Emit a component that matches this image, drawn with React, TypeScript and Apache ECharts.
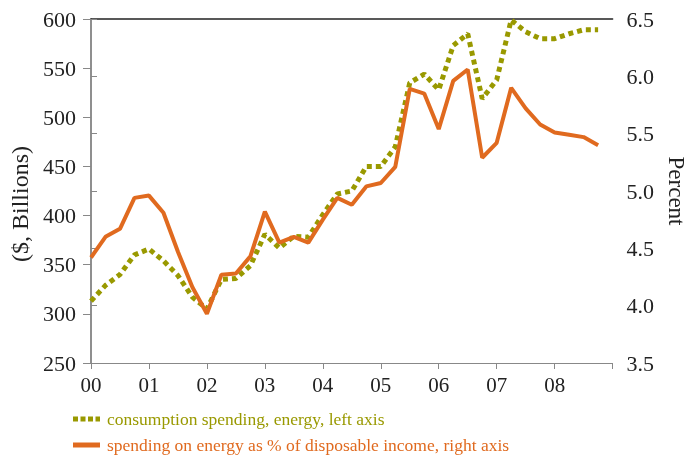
import React, { useEffect, useRef } from "react";
import * as echarts from "echarts";

// Quarterly, 2000Q1 .. 2008Q4 (index 0..35)
const yearLabels = ["00", "01", "02", "03", "04", "05", "06", "07", "08"];

const energySpending = [
  313, 329, 340, 360, 366, 354, 339, 317, 305, 335, 336, 349,
  381, 367, 379, 378, 401, 422, 425, 450, 450, 470, 535, 544,
  528, 573, 585, 519, 538, 599, 587, 580, 580, 585, 589, 589,
];

const energyShare = [
  4.42, 4.60, 4.67, 4.94, 4.96, 4.81, 4.47, 4.16, 3.93, 4.27, 4.28, 4.43,
  4.82, 4.55, 4.60, 4.55, 4.75, 4.94, 4.88, 5.04, 5.07, 5.21, 5.89, 5.85,
  5.54, 5.96, 6.06, 5.29, 5.42, 5.90, 5.72, 5.58, 5.51, 5.49, 5.47, 5.40,
];

const GREEN = "#999900";
const ORANGE = "#e06a1f";
const FONT = "'Liberation Serif', 'Times New Roman', serif";
const S1 = "consumption spending, energy, left axis";
const S2 = "spending on energy as % of disposable income, right axis";

export default function App() {
  const ref = useRef<HTMLDivElement>(null);
  useEffect(() => {
    if (!ref.current) return;
    const chart = echarts.init(ref.current, undefined, { renderer: "svg" });
    const axisColor = "#888888";
    const legendX = 73;
    const legendY = 419;
    const legendStep = 26;
    chart.setOption({
      animation: false,
      textStyle: { fontFamily: FONT },
      grid: { left: 91, right: 81, top: 19, bottom: 95 },
      graphic: [
        {
          type: "group",
          x: legendX,
          y: legendY,
          children: [
            {
              type: "line",
              shape: { x1: 0, y1: 0, x2: 27, y2: 0 },
              style: { stroke: GREEN, lineWidth: 5, lineDash: [5, 2.5] },
            },
            {
              type: "text",
              x: 34,
              y: 0,
              style: {
                text: S1,
                fill: GREEN,
                font: `17.5px ${FONT}`,
                verticalAlign: "middle",
              },
            },
            {
              type: "line",
              shape: { x1: 0, y1: legendStep, x2: 27, y2: legendStep },
              style: { stroke: ORANGE, lineWidth: 5 },
            },
            {
              type: "text",
              x: 34,
              y: legendStep,
              style: {
                text: S2,
                fill: ORANGE,
                font: `17.5px ${FONT}`,
                verticalAlign: "middle",
              },
            },
          ],
        },
      ],
      xAxis: [
        {
          type: "value",
          min: 0,
          max: 36,
          interval: 4,
          splitLine: { show: false },
          axisLine: { lineStyle: { color: axisColor, width: 1 } },
          axisTick: { length: 6, lineStyle: { color: axisColor } },
          axisLabel: {
            fontFamily: FONT,
            fontSize: 21,
            color: "#222",
            margin: 11,
            formatter: (v: number) => (v < 36 ? yearLabels[v / 4] : ""),
          },
        },
        {
          type: "value",
          position: "top",
          min: 0,
          max: 36,
          axisLine: { show: true, lineStyle: { color: "#222", width: 1.5 } },
          axisTick: { show: false },
          axisLabel: { show: false },
          splitLine: { show: false },
        },
      ],
      yAxis: [
        {
          type: "value",
          min: 250,
          max: 600,
          interval: 50,
          name: "($, Billions)",
          nameLocation: "middle",
          nameRotate: 90,
          nameGap: 55,
          nameTextStyle: {
            fontFamily: FONT,
            fontSize: 24,
            color: "#222",
            padding: [0, 26, 0, 0],
          },
          splitLine: { show: false },
          axisLine: { show: true, lineStyle: { color: axisColor, width: 1.5 } },
          axisTick: { show: true, length: 8, lineStyle: { color: axisColor } },
          axisLabel: { fontFamily: FONT, fontSize: 22, color: "#222", margin: 15 },
        },
        {
          type: "value",
          min: 3.5,
          max: 6.5,
          interval: 0.5,
          position: "right",
          name: "Percent",
          nameLocation: "middle",
          nameRotate: -90,
          nameGap: 50,
          nameTextStyle: { fontFamily: FONT, fontSize: 23, color: "#222" },
          splitLine: { show: false },
          axisLine: { show: true, lineStyle: { color: axisColor, width: 1.5 } },
          axisTick: { show: true, length: 6, lineStyle: { color: axisColor } },
          axisLabel: {
            fontFamily: FONT,
            fontSize: 22,
            color: "#222",
            margin: 14,
            formatter: (v: number) => v.toFixed(1),
          },
        },
      ],
      series: [
        {
          name: S1,
          type: "line",
          xAxisIndex: 0,
          yAxisIndex: 0,
          symbol: "none",
          data: energySpending.map((v, i) => [i, v]),
          lineStyle: { color: GREEN, width: 5, type: [5, 4], cap: "butt" },
          itemStyle: { color: GREEN },
          z: 2,
        },
        {
          name: S2,
          type: "line",
          xAxisIndex: 0,
          yAxisIndex: 1,
          symbol: "none",
          data: energyShare.map((v, i) => [i, v]),
          lineStyle: { color: ORANGE, width: 4 },
          itemStyle: { color: ORANGE },
          z: 3,
        },
      ],
    });
    return () => chart.dispose();
  }, []);
  return (
    <div
      ref={ref}
      style={{ position: "fixed", left: 0, top: 0, width: 696, height: 458 }}
    />
  );
}
